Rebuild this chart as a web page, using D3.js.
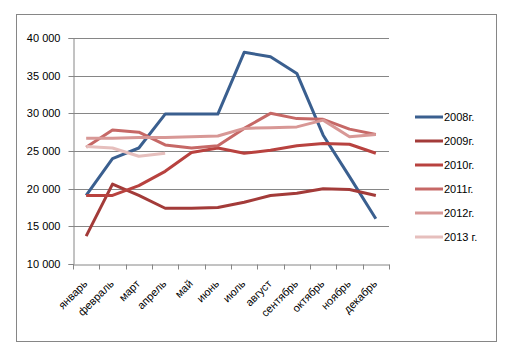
<!DOCTYPE html>
<html><head><meta charset="utf-8">
<script src="https://cdn.jsdelivr.net/npm/d3@7"></script>
<style>
html,body{margin:0;padding:0;background:#fff;}
text{font-family:"Liberation Sans","DejaVu Sans",sans-serif;font-size:11px;fill:#000;}
</style></head>
<body>
<svg id="c" width="514" height="356"></svg>
<script>
const months = ["январь","февраль","март","апрель","май","июнь","июль","август","сентябрь","октябрь","ноябрь","декабрь"];
const yTicks = [10000,15000,20000,25000,30000,35000,40000];
const seriesNames = ["2008г.","2009г.","2010г.","2011г.","2012г.","2013 г."];
const colors = ["#3A5F8F","#A33B39","#B8423F","#C66866","#D89896","#E6BFBD"];
const v2008 = [19100,24000,25400,29900,29900,29900,38100,37500,35300,27100,21600,16000];
const v2009 = [13700,20600,19100,17400,17400,17500,18200,19100,19400,20000,19900,19100];
const v2010 = [19100,19100,20400,22300,24800,25400,24700,25100,25700,26000,25900,24700];
const v2011 = [25500,27800,27500,25800,25400,25700,28000,30000,29300,29200,27900,27200];
const v2012 = [26700,26700,26800,26800,26900,27000,28000,28100,28200,29100,26900,27200];
const v2013 = [25600,25400,24300,24700];
const allSeries = [v2008,v2009,v2010,v2011,v2012,v2013];

const svg = d3.select("#c");
svg.append("rect").attr("x",16.5).attr("y",14.5).attr("width",480).attr("height",327)
  .attr("fill","#fff").attr("stroke","#868686").attr("stroke-width",1);

const L=73, R=389, T=38, B=264;
const x = d3.scaleBand().domain(months).range([L,R]);
const y = d3.scaleLinear().domain([10000,40000]).range([B,T]);

// gridlines
svg.append("g").selectAll("line").data(yTicks.filter(d=>d>10000)).join("line")
  .attr("x1",L).attr("x2",R).attr("y1",d=>Math.round(y(d))+0.5).attr("y2",d=>Math.round(y(d))+0.5)
  .attr("stroke","#868686");

// y axis
const ya = svg.append("g").attr("transform",`translate(${L+0.5},0)`)
  .call(d3.axisLeft(y).tickValues(yTicks).tickSize(5).tickPadding(8)
    .tickFormat(d=>d3.format(",")(d).replace(",","\u00a0")));
ya.select(".domain").attr("stroke","#868686");
ya.selectAll(".tick line").attr("stroke","#868686");
ya.selectAll(".tick text").style("font-size","11px").attr("fill","#000").attr("dy","0.35em");
ya.selectAll(".tick").attr("transform",d=>`translate(0,${Math.round(y(d))+0.5})`);

// x axis
const xa = svg.append("g").attr("transform",`translate(0,${B+0.5})`)
  .call(d3.axisBottom(x).tickSize(0).tickFormat(""));
xa.select(".domain").attr("stroke","#868686");
xa.selectAll(".tick").remove();
const bounds = months.map(m=>x(m)).concat([R]);
xa.selectAll("line.tk").data(bounds).join("line").attr("class","tk")
  .attr("x1",d=>Math.round(d)+0.5).attr("x2",d=>Math.round(d)+0.5).attr("y1",0).attr("y2",5)
  .attr("stroke","#868686");
xa.selectAll("text.lb").data(months).join("text").attr("class","lb")
  .attr("text-anchor","end")
  .attr("transform",d=>`translate(${x(d)+x.bandwidth()/2+2},${20}) rotate(-45)`)
  .text(d=>d);

// lines
const line = d3.line().x((d,i)=>x(months[i])+x.bandwidth()/2).y(d=>y(d));
svg.append("g").selectAll("path").data(allSeries).join("path")
  .attr("d",d=>line(d)).attr("fill","none")
  .attr("stroke",(d,i)=>colors[i]).attr("stroke-width",3).attr("stroke-linejoin","round");

// legend
const lg = svg.append("g").selectAll("g").data(seriesNames).join("g")
  .attr("transform",(d,i)=>`translate(415,${117+i*24})`);
lg.append("line").attr("x1",0).attr("x2",28).attr("y1",0).attr("y2",0)
  .attr("stroke",(d,i)=>colors[i]).attr("stroke-width",3);
lg.append("text").attr("x",29).attr("y",0).attr("dy","0.35em").text(d=>d);
</script>
</body></html>
